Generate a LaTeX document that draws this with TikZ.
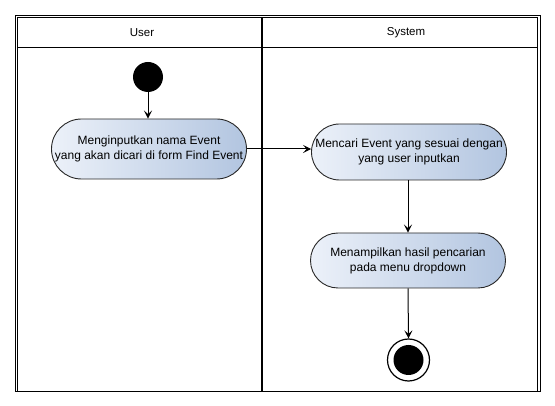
\documentclass[tikz,border=0pt]{standalone}
\usepackage{fontspec}
\setmainfont{Liberation Sans}
\usetikzlibrary{shapes.misc,arrows.meta}
\definecolor{actleft}{RGB}{236,241,249}
\definecolor{actright}{RGB}{178,197,224}
\definecolor{actborder}{RGB}{40,40,40}
\tikzset{
  actbox/.style={rounded rectangle, draw=actborder, line width=0.9pt,
    left color=actleft, right color=actright, shading angle=90,
    align=center, font=\fontsize{12}{15}\selectfont, inner sep=1pt,
    minimum width=197pt, minimum height=57pt},
  flow/.style={draw=black, line width=1pt,
    -{Stealth[length=8pt,width=8pt,inset=3.5pt]}},
  lanetitle/.style={font=\fontsize{11.5}{13}\selectfont},
  startnode/.style={circle, fill=black, minimum size=30pt, inner sep=0pt},
  endouter/.style={circle, draw=black, line width=1.2pt, fill=white, minimum size=42pt, inner sep=0pt},
  endinner/.style={circle, fill=black, minimum size=30pt, inner sep=0pt}
}
\begin{document}
\begin{tikzpicture}[x=1pt,y=-1pt]
\useasboundingbox (0,0) rectangle (555,406);
% swimlanes
\draw[line width=0.9pt] (15,15) rectangle (540,391);
\draw[line width=0.9pt] (17.5,17.5) -- (17.5,391);
\draw[line width=0.9pt] (17.5,17.5) -- (537.5,17.5) -- (537.5,391);
\draw[line width=0.9pt] (17.5,47) -- (537.5,47);
\draw[line width=2.2pt] (262,17.5) -- (262,391);
\node[lanetitle] (luser) at (142,32.5) {User};
\node[lanetitle] (lsys) at (406,32.5) {System};
% nodes
\node[startnode] (start) at (148,77) {};
\node[actbox, minimum height=60pt] (a1) at (149,149)
  {Menginputkan nama Event\\yang akan dicari di form Find Event};
\node[actbox, minimum height=56pt] (a2) at (409,152)
  {Mencari Event yang sesuai dengan\\yang user inputkan};
\node[actbox, minimum height=55pt] (a3) at (408,260.5)
  {Menampilkan hasil pencarian\\pada menu dropdown};
\node[endouter] (endo) at (408.5,360) {};
\node[endinner] (endi) at (endo.center) {};
% connectors
\draw[flow] (start) -- (start |- a1.north);
\draw[flow] (a1.east) -- (a1.east -| a2.west);
\draw[flow] (a2.south -| a3.north) -- (a3.north);
\draw[flow] (a3.south) -- (endo.north);
\end{tikzpicture}
\end{document}
